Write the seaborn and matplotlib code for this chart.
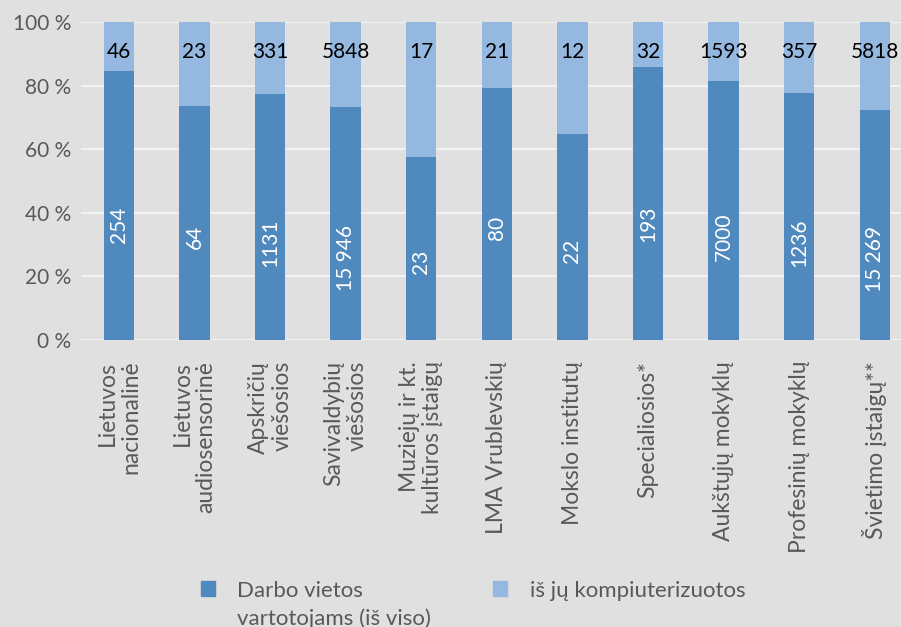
#importing packages
import pandas as pd
import numpy as np
from matplotlib import pyplot as plt
from matplotlib.patches import Patch
import seaborn as sns

# data
categories = ['Lietuvos\nnacionalinė', 'Lietuvos\naudiosensorinė', 'Apskričių\nviešosios',
              'Savivaldybių\nviešosios', 'Muziejų ir kt.\nkultūros įstaigų', 'LMA Vrublevskių',
              'Mokslo institutų', 'Specialiosios*', 'Aukštųjų mokyklų', 'Profesinių mokyklų',
              'Švietimo įstaigų**']
darbo_vietos = [254, 64, 1131, 15946, 23, 80, 22, 193, 7000, 1236, 15269]
kompiuterizuotos = [46, 23, 331, 5848, 17, 21, 12, 32, 1593, 357, 5818]
y_ticks = [0, 20, 40, 60, 80, 100]

dark = '#4F89BD'
light = '#95B8E0'
grey_txt = '#595959'

df = pd.DataFrame({'kategorija': categories, 'darbo': darbo_vietos, 'komp': kompiuterizuotos})
df['viso'] = df['darbo'] + df['komp']
df['darbo_pct'] = df['darbo'] / df['viso'] * 100
df['viso_pct'] = 100.0

sns.set_style('white')
plt.rcParams['font.family'] = ['Lato', 'DejaVu Sans']

fig = plt.figure(figsize=(9.01, 6.27), dpi=100, facecolor='#E0E0E0')
ax = fig.add_axes([0.0899, 0.4577, 0.923, 0.5072])
ax.set_facecolor('#E0E0E0')

# stacked 100 % bars: light full bar, dark share on top
sns.barplot(data=df, x='kategorija', y='viso_pct', color=light, width=0.4, saturation=1,
            edgecolor='none', ax=ax, zorder=3)
sns.barplot(data=df, x='kategorija', y='darbo_pct', color=dark, width=0.4, saturation=1,
            edgecolor='none', ax=ax, zorder=4)

def fmt(n):
    return f'{n:,}'.replace(',', ' ') if n >= 10000 else str(n)

for i, row in df.iterrows():
    ax.text(i, row['darbo_pct'] / 2 - 0.5, fmt(row['darbo']), rotation=90, ha='center', va='top',
            color='white', fontsize=15, zorder=5)
    ax.text(i, 90.5, fmt(row['komp']), ha='center', va='center', color='black', fontsize=15, zorder=5)

ax.set_ylim(0, 100)
ax.set_yticks(y_ticks)
ax.set_yticklabels([f'{t} %' for t in y_ticks], color=grey_txt, fontsize=15)
ax.yaxis.grid(True, color='#F2F2F2', linewidth=1.6, zorder=0)
ax.set_axisbelow(True)
ax.tick_params(axis='y', length=0, pad=7)
ax.tick_params(axis='x', length=0, pad=15)
ax.set_xticks(range(len(categories)))
ax.set_xticklabels(categories, rotation=90, color=grey_txt, fontsize=16.5, va='top', ha='center')
for lab in ax.get_xticklabels():
    lab.set_multialignment('right')
    lab.set_linespacing(1.15)
ax.set_xlabel('')
ax.set_ylabel('')
sns.despine(ax=ax, left=True, bottom=True)

handles = [Patch(color=dark, label='Darbo vietos\nvartotojams (iš viso)'),
           Patch(color=light, label='iš jų kompiuterizuotos')]
leg = fig.legend(handles=handles, ncol=2, loc='upper left', bbox_to_anchor=(201 / 901, 1 - 581 / 627),
                 frameon=False, fontsize=16, handlelength=0.63, handleheight=0.63,
                 handletextpad=1.0, columnspacing=2.8, borderpad=0, borderaxespad=0)
for t in leg.get_texts():
    t.set_color(grey_txt)
    t.set_linespacing(1.42)
# align legend squares with the first text line
leg._legend_handle_box.align = 'top'
for col in leg._legend_handle_box.get_children():
    for item in col.get_children():
        item.align = 'top'

fig.savefig('out.png', dpi=100, facecolor=fig.get_facecolor())
